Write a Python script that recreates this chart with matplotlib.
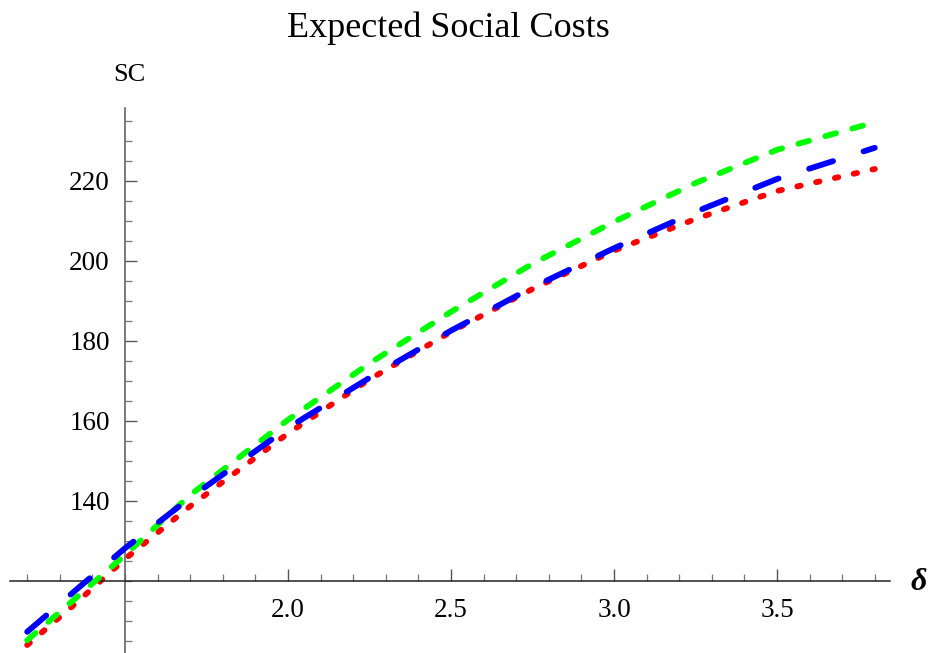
import matplotlib
matplotlib.use("Agg")
import matplotlib.pyplot as plt
from matplotlib.ticker import MultipleLocator, FixedLocator

plt.rcParams['font.family'] = ['Liberation Serif', 'DejaVu Serif']

delta = [1.2, 1.35, 1.5, 1.7, 2.0, 2.25, 2.5, 2.75, 3.0, 3.25, 3.5, 3.8]
sc_green = [105.2, 115.8, 126.5, 141.5, 160.3, 174.4, 187.3, 199.3, 209.8, 219.5, 227.8, 234.7]
sc_blue = [107.3, 117.8, 128.2, 140.8, 158.3, 170.8, 182.6, 193.4, 203.2, 212.3, 220.5, 228.3]
sc_red = [104.0, 114.5, 125.5, 138.7, 156.9, 170.4, 182.3, 193.0, 202.6, 210.5, 217.5, 223.0]

xticks = [2.0, 2.5, 3.0, 3.5]
yticks = [140, 160, 180, 200, 220]

W, H = 931, 653
fig = plt.figure(figsize=(W / 100, H / 100), dpi=100)
ax = fig.add_axes([10 / W, 0 / H, 880 / W, 545 / H])
ax.set_xlim(1.5 - 115 / 326, 1.5 + 765 / 326)
ax.set_ylim(120 - 72 / 4, 120 + 473 / 4)

lw = 4.2
ax.plot(delta, sc_green, color='#00ff00', lw=lw, dashes=(1.9, 2.9),
        dash_capstyle='round', zorder=3)
ax.plot(delta, sc_red, color='#ff0000', lw=lw, dashes=(0.6, 2.7),
        dash_capstyle='round', zorder=2)
ax.plot(delta, sc_blue, color='#0000ff', lw=lw, dashes=(4.3, 5.5),
        dash_capstyle='round', zorder=4)

for s in ['top', 'right']:
    ax.spines[s].set_visible(False)
ax.spines['left'].set_position(('data', 1.5))
ax.spines['bottom'].set_position(('data', 120))
ax.spines['left'].set_color('#555555')
ax.spines['bottom'].set_color('#222222')
ax.spines['left'].set_linewidth(1.1)
ax.spines['bottom'].set_linewidth(1.1)

ax.xaxis.set_major_locator(FixedLocator(xticks))
ax.xaxis.set_minor_locator(MultipleLocator(0.1))
ax.yaxis.set_major_locator(FixedLocator(yticks))
ax.yaxis.set_minor_locator(MultipleLocator(5))
ax.set_xticklabels([f"{v:.1f}" for v in xticks])
ax.set_yticklabels([str(v) for v in yticks])

ax.tick_params(axis='x', which='major', direction='in', length=8.5, width=1.0,
               color='#555555', labelsize=19.5, pad=12)
ax.tick_params(axis='x', which='minor', direction='in', length=5, width=0.9,
               color='#777777')
ax.tick_params(axis='y', which='major', direction='in', length=8.5, width=1.0,
               color='#555555', labelsize=19.5, pad=11)
ax.tick_params(axis='y', which='minor', direction='in', length=5, width=0.9,
               color='#777777')

ax.patch.set_alpha(0)
fig.text(448 / W, 1 - 28 / H, 'Expected Social Costs', ha='center', va='center',
         fontsize=26)
fig.text(129 / W, 1 - 75 / H, 'SC', ha='center', va='center', fontsize=19)
fig.text(919 / W, 1 - 582 / H, 'δ', ha='center', va='center', fontsize=23,
         fontweight='bold', fontstyle='italic')

fig.savefig('out.png', dpi=100)
